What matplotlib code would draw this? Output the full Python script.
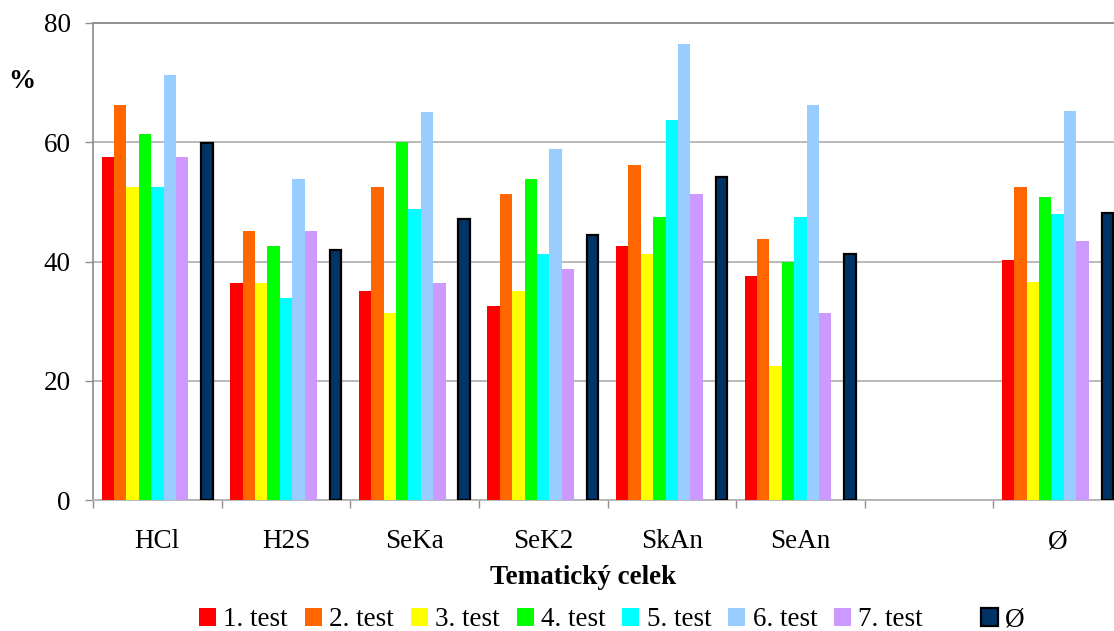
import numpy as np
import matplotlib
matplotlib.use("Agg")
import matplotlib.pyplot as plt
from matplotlib.patches import Patch

categories = ['HCl', 'H2S', 'SeKa', 'SeK2', 'SkAn', 'SeAn', '', 'Ø']
series_names = ['1. test', '2. test', '3. test', '4. test', '5. test', '6. test', '7. test']
test1 = [57.6, 36.4, 35.0, 32.5, 42.6, 37.5, np.nan, 40.2]
test2 = [66.3, 45.1, 52.5, 51.3, 56.2, 43.7, np.nan, 52.5]
test3 = [52.5, 36.4, 31.3, 35.0, 41.2, 22.4, np.nan, 36.5]
test4 = [61.4, 42.6, 60.0, 53.8, 47.4, 40.0, np.nan, 50.8]
test5 = [52.5, 33.9, 48.8, 41.2, 63.7, 47.4, np.nan, 48.0]
test6 = [71.3, 53.8, 65.1, 58.9, 76.4, 66.3, np.nan, 65.3]
test7 = [57.6, 45.1, 36.4, 38.7, 51.3, 31.3, np.nan, 43.4]
average = [59.9, 41.9, 47.1, 44.5, 54.2, 41.2, np.nan, 48.1]
avg_name = 'Ø'

colors = ['#FF0000', '#FF6600', '#FFFF00', '#00FF00', '#00FFFF', '#99CCFF', '#CC99FF']
avg_color = '#003366'

plt.rcParams['font.family'] = ['Liberation Serif', 'DejaVu Serif']
FS = 19.5

W, H = 1114, 631
fig = plt.figure(figsize=(W / 100, H / 100), dpi=100)
ax = fig.add_axes([93 / W, (H - 500) / H, 1029 / W, 477 / H])

x = np.arange(len(categories))
w = 0.0964
all_tests = [test1, test2, test3, test4, test5, test6, test7]
handles, labels = [], []
for i, (vals, name, c) in enumerate(zip(all_tests, series_names, colors)):
    b = ax.bar(x + (i - 4) * w, vals, width=w, color=c, zorder=3, linewidth=0)
    handles.append(b)
    labels.append(name)
handles.append(Patch(facecolor='none', edgecolor='none'))
labels.append('')
b = ax.bar(x + 4 * w, average, width=w * 0.92, color=avg_color, edgecolor='black',
           linewidth=1.6, zorder=3)
handles.append(b)
labels.append(avg_name)

ax.set_xlim(-0.5, len(categories) - 0.5)
ax.set_ylim(0, 80)
ax.set_yticks([0, 20, 40, 60, 80])
ax.yaxis.grid(True, color='#B3B3B3', linewidth=1.3, zorder=0)
ax.set_axisbelow(True)

ax.set_xticks(x)
ax.set_xticklabels(categories, fontsize=FS)
ax.set_xticks(np.arange(len(categories) + 1) - 0.5, minor=True)
ax.tick_params(axis='x', which='major', length=0, pad=21)
ax.tick_params(axis='x', which='minor', length=6, width=1, color='#909090', direction='out')
ax.tick_params(axis='y', length=6, width=1, color='#909090', labelsize=FS, pad=10)

for s in ['top', 'right']:
    ax.spines[s].set_visible(False)
ax.spines['left'].set_color('#8C8C8C')
ax.spines['left'].set_linewidth(1.2)
ax.spines['bottom'].set_color('#B3B3B3')
ax.spines['bottom'].set_linewidth(1.3)
ax.axhline(80, color='#8C8C8C', linewidth=1.3, zorder=1, clip_on=False)

fig.text(583 / W, 1 - 578 / H, 'Tematický celek', ha='center', va='center',
         fontsize=FS, fontweight='bold')
fig.text(22 / W, 1 - 81 / H, '%', ha='center', va='center', fontsize=FS, fontweight='bold')

fig.legend(handles, labels, loc='center', bbox_to_anchor=(612 / W, 1 - 620 / H), ncol=9,
           frameon=False, fontsize=FS, handlelength=0.63, handleheight=0.63,
           handletextpad=0.27, columnspacing=0.62, borderpad=0)

fig.savefig('out.png', dpi=100)
